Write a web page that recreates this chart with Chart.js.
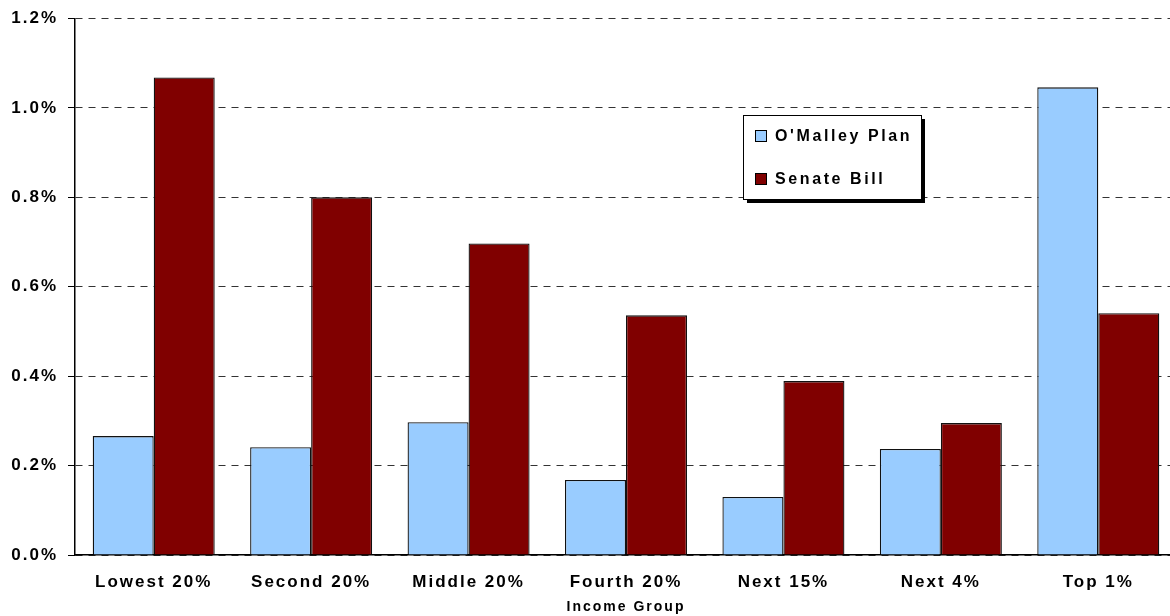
<!DOCTYPE html>
<html>
<head>
<meta charset="utf-8">
<style>
  html, body { margin: 0; padding: 0; background: #fff; }
  #wrap { width: 1170px; height: 616px; }
</style>
<script src="https://cdn.jsdelivr.net/npm/chart.js@4/dist/chart.umd.min.js"></script>
</head>
<body>
<div id="wrap"><canvas id="grafica" width="1170" height="616"></canvas></div>
<script>
const categorias = ["Lowest 20%", "Second 20%", "Middle 20%", "Fourth 20%", "Next 15%", "Next 4%", "Top 1%"];
const omalley = [0.266, 0.241, 0.297, 0.168, 0.130, 0.237, 1.046];
const senado = [1.068, 0.800, 0.697, 0.536, 0.389, 0.295, 0.541];
const ticksY = [0, 0.2, 0.4, 0.6, 0.8, 1.0, 1.2];

const fuente = "'Liberation Sans', Arial, sans-serif";

// leyenda flotante con sombra, como en el original
const leyenda = {
  id: "leyenda",
  afterDraw(chart) {
    const ctx = chart.ctx;
    const x = 743, y = 115, w = 178, h = 84;
    ctx.save();
    ctx.fillStyle = "#000";
    ctx.fillRect(x + 4, y + 4, w, h);
    ctx.fillStyle = "#fff";
    ctx.fillRect(x, y, w, h);
    ctx.strokeStyle = "#000";
    ctx.lineWidth = 1;
    ctx.strokeRect(x + 0.5, y + 0.5, w, h);
    ctx.font = "bold 16px " + fuente;
    ctx.letterSpacing = "2.6px";
    ctx.textBaseline = "middle";
    chart.data.datasets.forEach((ds, i) => {
      const cy = y + 21 + i * 43;
      ctx.fillStyle = ds.backgroundColor;
      ctx.fillRect(x + 12, cy - 6, 12, 12);
      ctx.strokeStyle = "#000";
      ctx.strokeRect(x + 12.5, cy - 5.5, 11, 11);
      ctx.fillStyle = "#000";
      ctx.fillText(ds.label, x + 32, cy + 1);
    });
    ctx.restore();
  }
};

const espaciado = {
  id: "espaciado",
  beforeDraw(chart) { chart.ctx.letterSpacing = "2px"; }
};

// el eje de categorías del original sigue un poco más allá del borde derecho
const ejeAncho = {
  id: "ejeAncho",
  afterLayout(chart) {
    const s = chart.scales.x;
    s.right = s.left + 1102;
    s.width = s.right - s.left;
    s.configure();
  }
};

const ctx = document.getElementById("grafica").getContext("2d");
new Chart(ctx, {
  type: "bar",
  data: {
    labels: categorias,
    datasets: [{
      label: "O'Malley Plan",
      data: omalley,
      backgroundColor: "#99CCFF",
      borderColor: "#111",
      borderWidth: 1.3,
      borderSkipped: "bottom"
    }, {
      label: "Senate Bill",
      data: senado,
      backgroundColor: "#800000",
      borderColor: "#111",
      borderWidth: 1.3,
      borderSkipped: "bottom"
    }]
  },
  options: {
    responsive: false,
    animation: false,
    layout: { padding: { top: 9, right: 0, left: 0, bottom: 0 } },
    datasets: { bar: { categoryPercentage: 0.775, barPercentage: 1 } },
    scales: {
      x: {
        grid: { display: false },
        border: { display: true, color: "#000", width: 1.5 },
        ticks: { color: "#000", font: { family: fuente, size: 17, weight: "bold" }, padding: 9, maxRotation: 0 },
        title: { display: true, text: "Income Group", color: "#000", font: { family: fuente, size: 14, weight: "bold" }, padding: { top: 1, bottom: 0 } },
        afterFit(s) { s.height = 61; }
      },
      y: {
        min: 0, max: 1.2,
        afterBuildTicks(s) { s.ticks = ticksY.map(v => ({ value: v })); },
        grid: { color: "#333", lineWidth: 1, tickLength: 7, tickColor: "#000" },
        border: { display: true, color: "#000", width: 1.5, dash: [7, 6] },
        ticks: {
          color: "#000", padding: 10,
          font: { family: fuente, size: 17, weight: "bold", lineHeight: 1 },
          callback: v => v.toFixed(1) + "%"
        },
        afterFit(s) { s.width = 75; }
      }
    },
    plugins: {
      legend: { display: false },
      tooltip: { enabled: false }
    }
  },
  plugins: [espaciado, ejeAncho, leyenda]
});
</script>
</body>
</html>
